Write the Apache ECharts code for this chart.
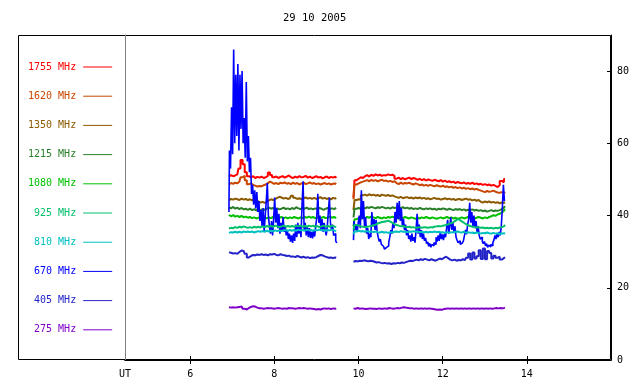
<!DOCTYPE html>
<html>
<head>
<meta charset="utf-8">
<script src="https://cdn.jsdelivr.net/npm/echarts@6/dist/echarts.min.js"></script>
<style>
  html, body { margin: 0; padding: 0; background: #fff; }
  #chart { width: 640px; height: 384px; }
</style>
</head>
<body>
<div id="chart"></div>
<script>
// time grid (UT hours): two observing segments with a gap between them
const seg1Start = 6.92;
const seg2Start = 9.88;
const stepSlow = 0.05;   // most channels
const stepFast = 0.025;  // 670 MHz channel

const xTicks = [6, 8, 10, 12, 14];
const yTicks = [0, 20, 40, 60, 80];

const channelNames = ['1755 MHz', '1620 MHz', '1350 MHz', '1215 MHz', '1080 MHz',
                      '925 MHz', '810 MHz', '670 MHz', '405 MHz', '275 MHz'];
const channelColors = ['#ff0000', '#c84600', '#8c5a00', '#2a7f2a', '#00c000',
                       '#00bf6a', '#00c0c0', '#0000ff', '#2323c8', '#7f00c8'];

// flux values, segment 1 and segment 2
const f1755a = [50.8,51.2,50.9,51.1,51.4, 53.0,55.4,54.2,52.0,50.9, 50.6,50.9,50.4,50.7,50.5, 50.8,50.4,50.6,51.0,51.9,
  51.2,50.6,50.8,50.4,50.7, 50.9,50.5,50.8,51.1,50.6, 50.4,50.8,50.5,50.9,50.6, 50.7,51.0,50.5,50.8,50.4,
  50.6,50.9,50.5,50.7,50.3, 50.6,50.8,50.4,50.7,50.5, 50.8,50.4];
const f1755b = [45.0,49.8,50.2,50.6,50.4, 50.9,51.2,50.8,51.3,51.0, 51.4,51.1,51.3,51.0,51.2, 51.1,51.4,51.2,51.3,51.0,
  50.2,50.5,50.1,50.4,50.0, 50.3,50.5,50.1,50.4,50.2, 49.9,50.2,49.8,50.1,49.7, 50.0,49.8,49.6,49.9,49.7,
  49.5,49.8,49.4,49.7,49.3, 49.5,49.2,49.4,49.0,49.3, 49.1,48.9,49.2,48.8,49.0, 48.8,49.1,48.7,48.9,48.6,
  48.8,48.5,48.7,48.4,48.6, 48.3,48.5,48.2,47.9,48.4, 49.6,49.2,50.1];

const f1620a = [48.6,49.0,48.8,49.1,48.9, 49.4,50.6,51.0,49.8,48.7, 48.9,48.5,48.3,48.0,48.2, 48.1,48.4,48.6,49.0,49.4,
  49.1,48.8,49.0,48.7,49.1, 48.9,49.2,48.8,49.0,48.7, 49.1,48.8,49.0,48.6,48.9, 49.1,48.7,48.9,49.2,48.8,
  49.0,48.7,48.9,48.6,48.8, 49.0,48.7,48.9,48.6,48.8, 48.9,48.7];
const f1620b = [44.5,48.6,48.9,49.2,49.4, 49.6,49.8,49.5,49.9,49.6, 49.8,49.5,49.7,49.9,49.6, 49.7,49.4,49.6,49.3,49.5,
  49.0,48.7,49.1,48.8,49.0, 48.9,49.1,48.8,48.6,48.9, 48.7,48.4,48.6,48.3,48.5, 48.2,48.5,48.3,48.1,48.4,
  48.2,48.0,48.3,47.9,48.1, 47.8,48.0,47.7,47.9,47.6, 47.8,47.5,47.7,47.4,47.6, 47.3,47.5,47.2,47.4,47.1,
  46.9,46.7,46.5,46.8,46.6, 46.7,46.9,46.6,46.4,46.3, 46.5,46.2,46.6];

const f1350a = [44.2,44.6,44.4,44.7,44.5, 44.3,44.7,44.4,44.6,44.3, 44.5,44.2,44.6,44.3,43.9, 43.6,43.8,43.5,43.9,44.2,
  44.5,44.3,44.6,44.9,45.2, 45.0,44.7,44.9,44.6,44.8, 45.5,44.9,44.6,44.8,44.5, 44.8,45.0,44.7,44.9,44.6,
  44.9,44.6,44.8,45.1,44.7, 44.9,44.6,44.8,44.5,44.9, 44.7,44.9];
const f1350b = [41.5,44.3,44.5,44.4,45.6, 45.8,45.5,45.9,45.6,45.8, 45.5,45.7,45.4,45.8,45.6, 45.5,45.7,45.4,45.6,45.3,
  45.1,44.9,45.2,44.8,45.0, 45.1,44.8,45.0,44.7,45.0, 44.8,45.0,44.7,44.9,44.6, 44.8,44.5,44.7,44.9,44.6,
  44.7,44.4,44.6,44.8,44.5, 44.7,44.4,44.6,44.3,44.5, 44.6,44.3,44.5,44.7,44.4, 44.5,44.2,44.4,44.1,44.3,
  43.8,43.6,43.9,43.7,43.9, 43.6,43.8,43.5,43.7,43.4, 43.6,43.5,43.7];

const f1215a = [42.3,42.0,42.4,41.9,42.2, 41.8,42.1,41.7,41.9,41.6, 41.9,41.5,41.8,41.4,41.7, 41.5,41.8,41.6,41.9,42.2,
  41.9,42.1,41.8,42.0,41.7, 41.9,42.2,41.8,42.0,41.7, 42.1,41.8,42.3,42.0,41.8, 42.1,41.9,42.2,41.8,42.0,
  41.7,42.0,41.8,42.1,41.9, 41.6,41.9,42.1,41.8,42.0, 41.8,42.1];
const f1215b = [39.5,41.9,42.1,41.8,42.2, 42.0,42.3,42.1,42.4,42.2, 42.0,42.3,42.1,42.4,42.2, 42.0,42.2,41.9,42.3,42.1,
  42.2,41.9,42.1,42.3,42.0, 42.2,41.9,42.1,41.8,42.0, 41.8,42.1,41.9,41.7,42.0, 41.8,42.0,41.7,41.9,41.6,
  41.9,41.7,42.0,41.8,41.6, 41.9,41.7,41.5,41.8,41.6, 41.8,41.5,41.7,41.4,41.6, 41.5,41.7,41.4,41.6,41.3,
  41.5,41.2,41.4,41.1,41.3, 41.5,41.2,41.4,41.3,41.5, 41.8,42.2,42.6];

const f1080a = [40.2,39.8,40.1,39.7,39.9, 39.6,39.9,39.5,39.7,39.4, 39.6,39.3,39.5,39.2,39.4, 39.6,39.3,39.5,39.2,39.5,
  39.3,39.6,39.4,39.7,39.4, 39.6,39.3,39.5,39.2,39.5, 39.3,39.6,39.4,39.2,39.5, 39.3,39.6,39.4,39.7,39.4,
  39.6,39.3,39.5,39.2,39.4, 39.6,39.3,39.5,39.7,39.4, 39.6,39.3];
const f1080b = [37.0,39.0,39.3,38.9,39.5, 39.3,39.6,39.4,39.7,39.5, 39.3,39.6,39.4,39.2,39.5, 39.3,39.6,39.4,39.7,39.5,
  39.4,39.2,39.5,39.3,39.6, 39.4,39.2,39.5,39.3,39.1, 39.4,39.2,39.5,39.3,39.6, 39.4,39.2,39.5,39.3,39.1,
  39.3,39.5,39.2,39.4,39.6, 39.3,39.5,39.2,39.4,39.1, 39.3,39.5,39.2,39.4,39.6, 39.3,39.5,39.2,39.4,39.6,
  39.4,39.2,39.5,39.3,39.6, 39.8,40.1,39.9,40.3,40.5, 40.8,41.3,41.8];

const f925a = [36.4,36.6,36.5,36.8,36.6, 36.9,36.7,37.0,36.8,36.6, 36.8,36.6,36.9,36.7,36.9, 36.7,37.0,36.8,37.1,36.9,
  37.1,36.9,37.2,37.0,36.8, 37.0,37.2,36.9,37.1,36.9, 37.1,36.9,37.2,37.0,37.2, 36.9,37.1,36.9,37.2,37.0,
  37.2,36.9,37.1,36.8,37.0, 37.2,36.9,37.1,36.9,37.2, 37.0,36.8];
const f925b = [36.0,37.4,37.2,37.0,36.9, 36.8,36.9,37.0,37.1,37.3, 37.5,37.8,38.0,38.2,38.3, 38.4,38.6,38.3,38.0,37.6,
  37.4,37.2,37.0,37.1,36.9, 36.8,36.9,36.7,36.8,36.6, 36.7,36.8,36.6,36.8,36.7, 36.6,36.8,36.7,36.9,37.0,
  37.1,37.0,37.2,37.3,37.5, 37.7,37.9,38.2,38.6,39.0, 38.8,38.4,38.0,37.6,37.3, 37.1,36.9,36.8,36.7,36.8,
  36.6,36.7,36.5,36.6,36.5, 36.6,36.4,36.6,36.5,36.7, 36.8,37.0,37.4];

const f810a = [35.2,35.4,35.3,35.5,35.3, 35.5,35.3,35.6,35.4,35.6, 35.4,35.6,35.3,35.5,35.7, 35.5,35.7,35.5,35.8,35.6,
  35.8,35.6,35.9,35.7,35.9, 35.7,35.9,36.0,35.8,36.0, 35.8,36.0,35.8,36.1,35.9, 36.0,35.8,36.1,35.9,36.0,
  35.8,36.0,35.9,36.1,35.9, 36.0,35.8,36.0,35.9,36.1, 35.9,35.7];
const f810b = [34.8,35.6,35.8,35.6,35.7, 35.5,35.7,35.5,35.6,35.4, 35.6,35.4,35.3,35.5,35.3, 35.4,35.2,35.4,35.3,35.5,
  35.6,35.4,35.7,35.5,35.6, 35.4,35.6,35.5,35.7,35.5, 35.6,35.4,35.5,35.3,35.5, 35.3,35.5,35.4,35.6,35.4,
  35.5,35.3,35.4,35.2,35.4, 35.2,35.4,35.3,35.5,35.6, 35.4,35.3,35.5,35.2,35.4, 35.2,35.3,35.1,35.3,35.2,
  35.0,35.2,35.1,35.3,35.1, 35.0,35.2,35.0,35.1,34.9, 35.1,35.0,35.2];

const f670a = [41.0,58,53,70,57, 86,60,79,62,82, 58,79,64,80,60, 67,56,77,55,62,
  52,56,46,48.5,43, 47,42,46.5,41,44, 38.5,41.5,37,42,35.5, 40,44,49,40,37,
  35,38.5,34.5,39,45, 38,42,36.5,40.5,35, 38,36,39.5,35.5,37, 34.5,36,33.5,35,32.8,
  34.5,32.4,35,33,37.5, 34,38,35,37,34, 43,49.5,36,38,34.5, 37,34,36.5,33.8,35.5,
  33.7,36,34.2,37,39.5, 46,38,40,36,39, 35.5,38,36,34.5,37, 41,45,38,36,37.5,
  34.5,35,33,32.4];
const f670b = [33.2,38.5,36,37.5,35.5, 38,40,36.5,47,39, 44,37,39.5,35,36.5, 33.5,35,34,41,37,
  39,36,38.8,35.5,34, 32.8,33.5,32,31.5,31, 30.7,31.2,30.8,31.6,32.5, 34,36,35,38,36.5,
  41,38,43.5,39,44, 38.5,42,37,39,36, 37.5,34.5,36,33.5,34.5, 32.8,35,33,34,32.5,
  36,40.5,35,37.5,34, 36,33.5,35,33,33.8, 32.2,32.8,31.5,32.3,31.2, 32,31.6,32.5,32,34,
  32.8,34.5,33,35.5,33.5, 34.8,33.2,35,34,36.5, 38.8,35,37,39.5,36, 38,35.5,37,34,33.2,
  32.5,33,32,32.4,32, 33,34.5,36,34.8,37.5, 39,43.5,38,41,37, 40,36.5,38.5,35.5,37,
  34.5,33.5,34,32.8,32.2, 32.8,31.6,32.2,31.2,31.8, 31.3,32,31.6,32.5,33.2, 34.5,33.5,35,34,35.5,
  34.5,37,42,48.5,44];

const f405a = [29.8,29.7,29.5,29.6,29.4, 29.9,30.3,30.2,29.4,28.4, 28.8,29.1,29.0,29.2,29.1, 29.3,29.1,29.2,29.0,29.3,
  29.2,29.4,29.1,29.0,29.3, 29.1,29.0,28.8,28.9,28.6, 28.7,28.5,28.8,28.6,28.4, 28.6,28.3,28.5,28.2,28.4,
  28.3,28.5,28.8,29.1,29.0, 28.7,28.5,28.3,28.4,28.2, 28.4,28.3];
const f405b = [27.2,27.4,27.3,27.5,27.4, 27.6,27.5,27.3,27.5,27.4, 27.2,27.0,27.1,26.9,26.8, 26.9,26.7,26.8,26.6,26.8,
  26.7,26.9,26.8,27.0,26.9, 27.1,27.3,27.5,27.4,27.6, 27.8,27.6,27.9,27.7,28.0, 27.8,27.6,27.9,27.7,27.5,
  27.8,28.1,27.9,28.3,28.6, 28.2,27.8,27.6,27.8,27.5, 27.7,27.6,27.9,27.7,28.3, 29.5,27.8,29.8,28.1,28.7,
  30.4,28.0,30.9,27.9,30.2, 29.6,28.1,28.9,28.3,28.6, 27.8,28.2,28.5];

const f275a = [14.6,14.5,14.6,14.5,14.6, 14.7,14.8,14.2,14.0,14.4, 14.7,14.9,14.8,14.5,14.3, 14.3,14.2,14.3,14.4,14.3,
  14.3,14.2,14.3,14.4,14.3, 14.2,14.3,14.2,14.4,14.3, 14.3,14.2,14.3,14.4,14.3, 14.4,14.3,14.2,14.3,14.2,
  14.1,14.0,14.1,14.0,14.2, 14.3,14.2,14.3,14.1,14.3, 14.2,14.3];
const f275b = [14.3,14.2,14.4,14.2,14.3, 14.2,14.1,14.2,14.3,14.2, 14.2,14.1,14.3,14.2,14.2, 14.3,14.2,14.4,14.3,14.2,
  14.3,14.4,14.3,14.5,14.6, 14.5,14.4,14.3,14.3,14.2, 14.3,14.2,14.3,14.2,14.3, 14.2,14.3,14.2,14.1,14.0,
  13.9,14.0,13.9,14.1,14.2, 14.3,14.2,14.3,14.2,14.3, 14.2,14.3,14.2,14.3,14.2, 14.3,14.2,14.3,14.2,14.3,
  14.2,14.3,14.2,14.3,14.2, 14.3,14.2,14.3,14.4,14.3, 14.4,14.3,14.5];

// pair values with their sample times; two empty points close each segment
// exactly at its ends so the stepped line does not run into the gap
function track(a, b, dt) {
  const p1 = a.map((v, i) => [+(seg1Start + dt * i).toFixed(3), v]);
  const p2 = b.map((v, i) => [+(seg2Start + dt * i).toFixed(3), v]);
  const end1 = p1[p1.length - 1][0];
  return p1.concat([[end1, null], [seg2Start, null]], p2);
}

const tracks = {
  '1755 MHz': track(f1755a, f1755b, stepSlow),
  '1620 MHz': track(f1620a, f1620b, stepSlow),
  '1350 MHz': track(f1350a, f1350b, stepSlow),
  '1215 MHz': track(f1215a, f1215b, stepSlow),
  '1080 MHz': track(f1080a, f1080b, stepSlow),
  '925 MHz': track(f925a, f925b, stepSlow),
  '810 MHz': track(f810a, f810b, stepSlow),
  '670 MHz': track(f670a, f670b, stepFast),
  '405 MHz': track(f405a, f405b, stepSlow),
  '275 MHz': track(f275a, f275b, stepSlow)
};

// drawing order (last on top)
const drawOrder = ['1755 MHz', '1620 MHz', '1350 MHz', '1215 MHz', '1080 MHz',
                   '670 MHz', '925 MHz', '810 MHz', '405 MHz', '275 MHz'];

const monoFont = 'DejaVu Sans Mono';
const chart = echarts.init(document.getElementById('chart'));

chart.setOption({
  animation: false,
  backgroundColor: '#fff',
  title: {
    text: '29 10 2005',
    left: 278,
    top: 8,
    textStyle: { fontFamily: monoFont, fontSize: 10.5, fontWeight: 'normal', color: '#000' }
  },
  legend: {
    orient: 'vertical',
    align: 'right',
    left: 28,
    top: 61,
    padding: 0,
    itemGap: 17.2,
    itemWidth: 29,
    itemHeight: 1,
    icon: 'rect',
    selectedMode: false,
    textStyle: { fontFamily: monoFont, fontSize: 10, lineHeight: 12, padding: [0, 2, 0, 0] },
    data: channelNames.map((n, i) => ({ name: n, textStyle: { color: channelColors[i] } }))
  },
  graphic: [{
    type: 'rect',
    z: -1,
    shape: { x: 18.5, y: 35.5, width: 592, height: 324 },
    style: { fill: 'none', stroke: '#000', lineWidth: 1 }
  }],
  grid: { left: 125, right: 29, top: 35, bottom: 24 },
  xAxis: [{
    type: 'value',
    position: 'bottom',
    min: 4.45,
    max: 16,
    axisLine: { lineStyle: { color: '#000', width: 1 } },
    axisTick: { inside: true, length: 4, customValues: xTicks, lineStyle: { color: '#000' } },
    axisLabel: {
      customValues: [4.45].concat(xTicks),
      formatter: v => (v < 5 ? 'UT' : String(v)),
      color: '#000', fontFamily: monoFont, fontSize: 10, margin: 9
    },
    splitLine: { show: false }
  }, {
    type: 'value',
    position: 'top',
    min: 4.45,
    max: 16,
    axisLine: { lineStyle: { color: '#000', width: 1 } },
    axisTick: { inside: true, length: 4, customValues: xTicks, lineStyle: { color: '#000' } },
    axisLabel: { show: false },
    splitLine: { show: false }
  }],
  yAxis: [{
    type: 'value',
    position: 'right',
    min: 0,
    max: 90,
    axisLine: { show: true, lineStyle: { color: '#000', width: 1 } },
    axisTick: { show: true, inside: true, length: 4, customValues: yTicks, lineStyle: { color: '#000' } },
    axisLabel: { customValues: yTicks, color: '#000', fontFamily: monoFont, fontSize: 10, margin: 6 },
    splitLine: { show: false }
  }, {
    type: 'value',
    position: 'left',
    min: 0,
    max: 90,
    axisLine: { show: true, lineStyle: { color: '#808080', width: 1 } },
    axisTick: { show: false },
    axisLabel: { show: false },
    splitLine: { show: false }
  }],
  series: drawOrder.map(name => ({
    name: name,
    type: 'line',
    step: 'middle',
    xAxisIndex: 0,
    yAxisIndex: 0,
    data: tracks[name],
    color: channelColors[channelNames.indexOf(name)],
    symbol: 'none',
    connectNulls: false,
    lineStyle: { width: name === '670 MHz' ? 1.6 : 2 },
    emphasis: { disabled: true }
  }))
});
</script>
</body>
</html>
